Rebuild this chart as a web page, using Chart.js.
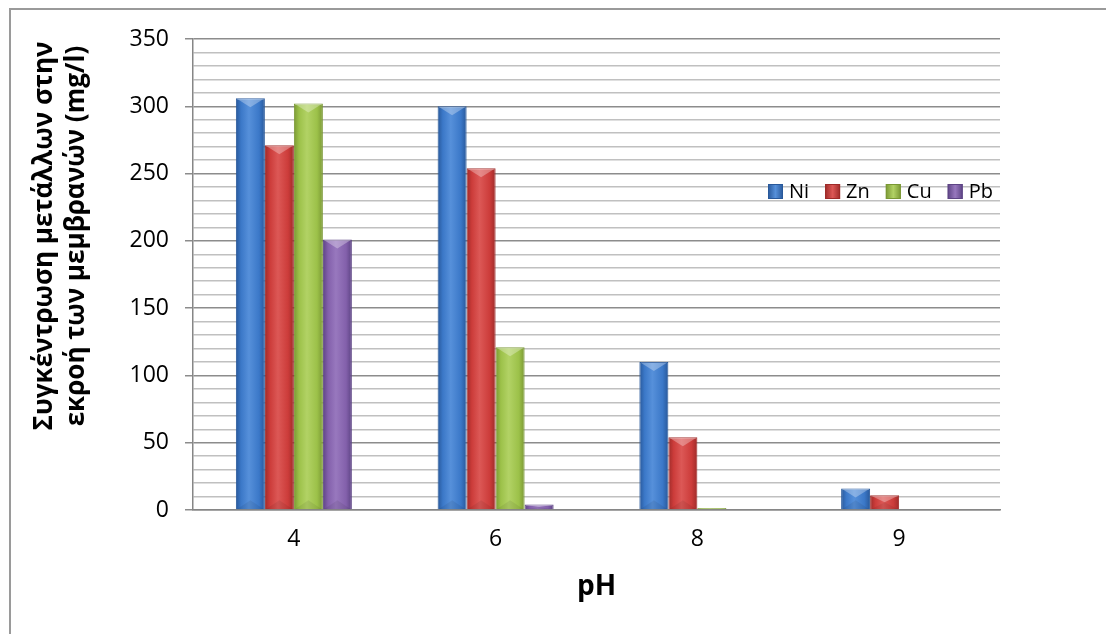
<!DOCTYPE html>
<html lang="el">
<head>
<meta charset="UTF-8">
<title>Συγκέντρωση μετάλλων στην εκροή των μεμβρανών</title>
<script src="https://cdn.jsdelivr.net/npm/chart.js"></script>
<style>
  html, body { margin: 0; padding: 0; background: #fff; }
  #wrap { width: 1106px; height: 634px; }
</style>
</head>
<body>
<div id="wrap"><canvas id="chart" width="1106" height="634"></canvas></div>
<script>
// data
var phLabels = ['4', '6', '8', '9'];
var seriesNames = ['Ni', 'Zn', 'Cu', 'Pb'];
var niValues = [306, 300, 110, 16];
var znValues = [271, 254, 54, 11];
var cuValues = [302, 121, 1.5, 0];
var pbValues = [201, 4, 0, 0];
var yTitleLines = ['Συγκέντρωση μετάλλων στην', 'εκροή των μεμβρανών (mg/l)'];
var xTitle = 'pH';

// colours: edge, middle, light
var palette = [
    ['#28589a', '#3b78c8', '#5690da'],
    ['#9e2b29', '#cc3c3a', '#dc5856'],
    ['#7a9834', '#9cc149', '#b2d265'],
    ['#5d4484', '#8360ab', '#9878be']
];
var FONT = '"Open Sans", "DejaVu Sans", sans-serif';

var allValues = [niValues, znValues, cuValues, pbValues];
var datasets = seriesNames.map(function (name, i) {
    return {
        label: name,
        data: allValues[i],
        backgroundColor: palette[i][1],
        borderColor: palette[i][0],
        borderWidth: 1,
        barPercentage: 1,
        categoryPercentage: 0.575
    };
});

var decor = {
    id: 'decor',
    beforeDraw: function (chart) {
        var c = chart.ctx;
        c.save();
        c.strokeStyle = '#9a9a9a';
        c.lineWidth = 2;
        c.strokeRect(10, 9, 1200, 700);
        c.restore();
    },
    beforeDatasetsDraw: function (chart) {
        var c = chart.ctx;
        chart.data.datasets.forEach(function (ds, di) {
            var meta = chart.getDatasetMeta(di);
            meta.data.forEach(function (el) {
                var p = el.getProps(['x', 'width'], true);
                var l = p.x - p.width / 2, r = p.x + p.width / 2;
                var g = c.createLinearGradient(l, 0, r, 0);
                g.addColorStop(0, palette[di][0]);
                g.addColorStop(0.18, palette[di][1]);
                g.addColorStop(0.45, palette[di][2]);
                g.addColorStop(0.8, palette[di][1]);
                g.addColorStop(1, palette[di][0]);
                el.options = Object.assign({}, el.options, { backgroundColor: g });
            });
        });
    },
    afterDatasetsDraw: function (chart) {
        var c = chart.ctx;
        c.save();
        chart.data.datasets.forEach(function (ds, di) {
            chart.getDatasetMeta(di).data.forEach(function (el) {
                var p = el.getProps(['x', 'y', 'base', 'width'], true);
                var h = p.base - p.y;
                if (h < 1) return;
                var l = p.x - p.width / 2 + 1, r = p.x + p.width / 2 - 1;
                var d = Math.min(9, h / 2);
                c.fillStyle = 'rgba(255,255,255,0.3)';
                c.beginPath();
                c.moveTo(l, p.y + 0.5); c.lineTo(r, p.y + 0.5); c.lineTo(p.x, p.y + d); c.closePath();
                c.fill();
                c.fillStyle = 'rgba(0,0,0,0.07)';
                c.beginPath();
                c.moveTo(l, p.base); c.lineTo(r, p.base); c.lineTo(p.x, p.base - d); c.closePath();
                c.fill();
            });
        });
        c.restore();
    },
    afterDraw: function (chart) {
        var c = chart.ctx;
        var area = chart.chartArea;
        c.save();
        c.fillStyle = '#000';
        // y title, two lines
        c.font = 'bold 26px ' + FONT;
        c.textAlign = 'center';
        c.textBaseline = 'middle';
        c.translate(0, 236);
        c.rotate(-Math.PI / 2);
        c.fillText(yTitleLines[0], 0, 45);
        c.fillText(yTitleLines[1], 0, 77);
        c.restore();

        c.save();
        c.fillStyle = '#000';
        c.font = 'bold 28px ' + FONT;
        c.textAlign = 'center';
        c.textBaseline = 'middle';
        c.fillText(xTitle, (area.left + area.right) / 2, 587);

        // legend inside plot
        c.font = '20px ' + FONT;
        c.textAlign = 'left';
        var lx = 768, ly = 191;
        chart.data.datasets.forEach(function (ds, di) {
            var g = c.createLinearGradient(lx, 0, lx + 15, 0);
            g.addColorStop(0, palette[di][0]);
            g.addColorStop(0.5, palette[di][2]);
            g.addColorStop(1, palette[di][0]);
            c.fillStyle = g;
            c.fillRect(lx, ly - 7, 15, 15);
            c.strokeStyle = palette[di][0];
            c.lineWidth = 1;
            c.strokeRect(lx + 0.5, ly - 6.5, 14, 14);
            c.fillStyle = '#000';
            c.fillText(ds.label, lx + 21, ly + 1);
            lx += 21 + c.measureText(ds.label).width + 16;
        });
        c.restore();
    }
};

new Chart(document.getElementById('chart'), {
    type: 'bar',
    data: { labels: phLabels, datasets: datasets },
    plugins: [decor],
    options: {
        responsive: false,
        animation: false,
        devicePixelRatio: 1,
        layout: { padding: { left: 0, top: 39, right: 106, bottom: 0 } },
        plugins: { legend: { display: false }, tooltip: { enabled: false } },
        scales: {
            x: {
                grid: { display: false },
                border: { color: '#868686', width: 1.5 },
                ticks: { color: '#000', font: { size: 23, family: FONT }, padding: 8 },
                afterFit: function (s) { s.height = 124; }
            },
            y: {
                min: 0,
                max: 350,
                border: { color: '#868686', width: 1.5 },
                grid: {
                    lineWidth: 1.5,
                    tickLength: 8,
                    color: function (ctx) { return ctx.tick && ctx.tick.value % 50 === 0 ? '#8c8c8c' : '#c0c0c0'; },
                    tickColor: function (ctx) { return ctx.tick && ctx.tick.value % 50 === 0 ? '#8c8c8c' : 'rgba(0,0,0,0)'; }
                },
                ticks: {
                    stepSize: 10,
                    autoSkip: false,
                    color: '#000',
                    padding: 16,
                    font: { size: 23, family: FONT },
                    callback: function (v) { return v % 50 === 0 ? v : ''; }
                },
                afterFit: function (s) { s.width = 193; }
            }
        }
    }
});
</script>
</body>
</html>
